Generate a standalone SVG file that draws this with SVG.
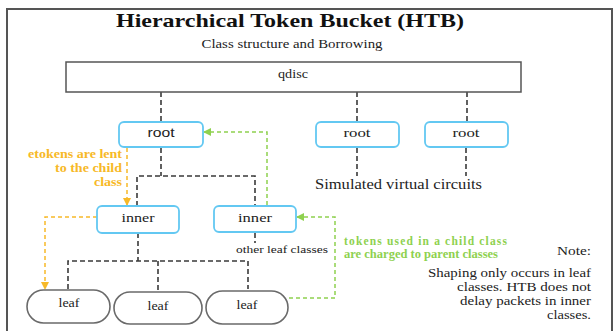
<svg xmlns="http://www.w3.org/2000/svg" width="614" height="331" viewBox="0 0 614 331">
<defs>
<marker id="arrO" markerWidth="8" markerHeight="8" refX="7" refY="4" orient="auto" markerUnits="userSpaceOnUse"><path d="M0,0 L8,4 L0,8 Z" fill="#f7b928"/></marker>
<marker id="arrG" markerWidth="8" markerHeight="8" refX="7" refY="4" orient="auto" markerUnits="userSpaceOnUse"><path d="M0,0 L8,4 L0,8 Z" fill="#8ed14f"/></marker>
<style>
text{font-family:"Liberation Serif","Times New Roman",serif;fill:#222}
.t{font-size:13px}
.cls{fill:#fff;stroke:#63c8f2;stroke-width:1.8}
.leaf{fill:#fff;stroke:#6a6a6a;stroke-width:1.6}
.box{fill:#fff;stroke:#555;stroke-width:1.5}
.dk{fill:none;stroke:#3a3a3a;stroke-width:1.6;stroke-dasharray:5,3}
.or{fill:none;stroke:#f7b928;stroke-width:1.5;stroke-dasharray:4,3}
.gr{fill:none;stroke:#8ed14f;stroke-width:1.5;stroke-dasharray:4,3}
.ot{fill:#f7b928;font-size:12px;font-weight:bold}
.gt{fill:#8ed14f;font-size:11.5px;font-weight:bold}
.nt{font-size:12.5px}
</style>
</defs>
<rect x="7" y="9" width="605" height="335" fill="#fff" stroke="#555" stroke-width="2"/>
<text x="290" y="27" text-anchor="middle" font-size="19" font-weight="bold" textLength="348" lengthAdjust="spacingAndGlyphs" style="fill:#111">Hierarchical Token Bucket (HTB)</text>
<text x="292" y="48" text-anchor="middle" class="t" textLength="181" lengthAdjust="spacingAndGlyphs">Class structure and Borrowing</text>

<g id="connectors">
<path class="dk" d="M161,92 V122 M357,92 V122 M467,92 V122"/>
<path class="dk" d="M161,148 V176 M137,206 V176 H255 V206"/>
<path class="dk" d="M357,148 V176 M466,148 V176"/>
<path class="dk" d="M138,233 V261 M68,289 V261 H248 V289 M158,261 V290"/>
<path class="dk" d="M255,233 V243"/>
<path class="or" d="M127,148 V205" marker-end="url(#arrO)"/>
<path class="or" d="M97,217 H45 V289" marker-end="url(#arrO)"/>
<path class="gr" d="M267,205 V132 H204" marker-end="url(#arrG)"/>
<path class="gr" d="M289,298 H335 V217 H297" marker-end="url(#arrG)"/>
</g>

<g id="qdisc">
<rect class="box" x="66" y="62" width="455" height="30"/>
<text x="293" y="78" text-anchor="middle" class="t" textLength="30" lengthAdjust="spacingAndGlyphs">qdisc</text>
</g>
<g id="root1">
<rect class="cls" x="119" y="122" width="84" height="25" rx="5"/>
<text x="161" y="137" text-anchor="middle" font-size="13" textLength="27" lengthAdjust="spacingAndGlyphs" style="font-family:'Liberation Sans',Arial,sans-serif">root</text>
</g>
<g id="root2">
<rect class="cls" x="316" y="122" width="83" height="25" rx="5"/>
<text x="357" y="137" text-anchor="middle" class="t" textLength="27" lengthAdjust="spacingAndGlyphs">root</text>
</g>
<g id="root3">
<rect class="cls" x="425" y="122" width="83" height="25" rx="5"/>
<text x="466" y="137" text-anchor="middle" class="t" textLength="27" lengthAdjust="spacingAndGlyphs">root</text>
</g>
<g id="inner1">
<rect class="cls" x="97" y="206" width="82" height="27" rx="5"/>
<text x="138" y="222" text-anchor="middle" class="t" textLength="33" lengthAdjust="spacingAndGlyphs">inner</text>
</g>
<g id="inner2">
<rect class="cls" x="214" y="206" width="82" height="26" rx="5"/>
<text x="255" y="222" text-anchor="middle" class="t" textLength="34" lengthAdjust="spacingAndGlyphs">inner</text>
</g>
<g id="leaf1">
<rect class="leaf" x="27" y="290" width="83" height="33" rx="16.5"/>
<text x="69" y="307" text-anchor="middle" font-size="12" textLength="21" lengthAdjust="spacingAndGlyphs">leaf</text>
</g>
<g id="leaf2">
<rect class="leaf" x="114" y="292" width="88" height="32" rx="16"/>
<text x="158" y="310" text-anchor="middle" font-size="12" textLength="21" lengthAdjust="spacingAndGlyphs">leaf</text>
</g>
<g id="leaf3">
<rect class="leaf" x="206" y="291" width="82" height="33" rx="16.5"/>
<text x="247" y="309" text-anchor="middle" font-size="12" textLength="21" lengthAdjust="spacingAndGlyphs">leaf</text>
</g>

<g id="labels">
<text x="122" y="158" text-anchor="end" class="ot" textLength="94" lengthAdjust="spacingAndGlyphs">etokens are lent</text>
<text x="122" y="172" text-anchor="end" class="ot" textLength="67" lengthAdjust="spacingAndGlyphs">to the child</text>
<text x="122" y="186" text-anchor="end" class="ot" textLength="28" lengthAdjust="spacingAndGlyphs">class</text>
<text x="315" y="189" font-size="14.5" textLength="167" lengthAdjust="spacingAndGlyphs">Simulated virtual circuits</text>
<text x="236" y="253" font-size="11" textLength="92" lengthAdjust="spacingAndGlyphs">other leaf classes</text>
<text x="344" y="245" class="gt" textLength="163" lengthAdjust="spacing">tokens used in a child class</text>
<text x="344" y="258" class="gt" textLength="154" lengthAdjust="spacingAndGlyphs">are charged to parent classes</text>
<text x="591" y="255" text-anchor="end" class="nt" textLength="34" lengthAdjust="spacingAndGlyphs">Note:</text>
<text x="591" y="277" text-anchor="end" class="nt" textLength="163" lengthAdjust="spacingAndGlyphs">Shaping only occurs in leaf</text>
<text x="591" y="291" text-anchor="end" class="nt" textLength="134" lengthAdjust="spacingAndGlyphs">classes. HTB does not</text>
<text x="591" y="305" text-anchor="end" class="nt" textLength="131" lengthAdjust="spacingAndGlyphs">delay packets in inner</text>
<text x="591" y="319" text-anchor="end" class="nt" textLength="44" lengthAdjust="spacingAndGlyphs">classes.</text>
</g>
</svg>
